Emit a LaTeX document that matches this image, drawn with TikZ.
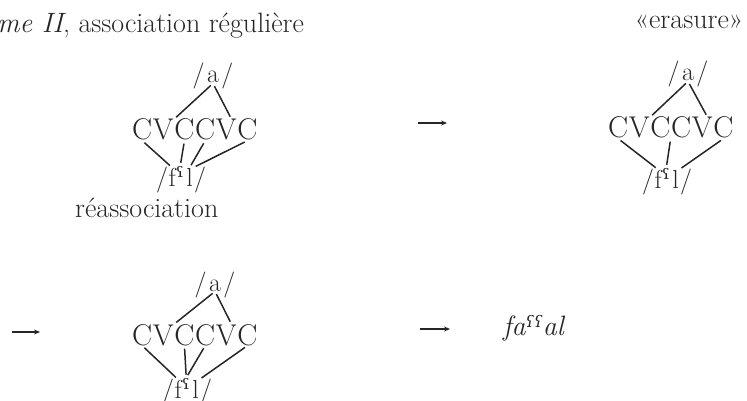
\documentclass[tikz,border=0pt]{standalone}
\usepackage{fontspec}
\newfontfamily\ipafont{DejaVu Serif}
\usetikzlibrary{arrows.meta,calc}
\tikzset{
  txt/.style={font=\fontsize{28}{33}\selectfont, inner sep=0pt, text=black!85},
  slot/.style={font=\fontsize{30}{34}\selectfont, inner sep=0pt, anchor=base west, text=black!85},
  mel/.style={font=\fontsize{26}{30}\selectfont, inner sep=0pt, anchor=base west, text=black!85},
  assoc/.style={line width=1.5pt, draw=black!85, shorten <=3pt, shorten >=3pt},
  seqarrow/.style={-{Stealth[length=6pt,width=5pt]}, line width=1.1pt, draw=black!85}
}
% #1 prefix, #2 left x of CVCCVC, #3 baseline, #4 a x-offset, #5 a dy, #6 melody x-offset, #7 melody dy
\newcommand\drawtiers[7]{%
  \node[slot] (#1c1) at (#2,#3) {C};
  \node[slot] (#1v1) at ([xshift=0.3pt]#1c1.base east) {V};
  \node[slot] (#1c2) at ([xshift=0.3pt]#1v1.base east) {C};
  \node[slot] (#1c3) at ([xshift=0.3pt]#1c2.base east) {C};
  \node[slot] (#1v2) at ([xshift=0.3pt]#1c3.base east) {V};
  \node[slot] (#1c4) at ([xshift=0.3pt]#1v2.base east) {C};
  \node[mel, anchor=base] (#1a) at (#2+#4,#3+#5) {a};
  \node[mel, anchor=base east] (#1al) at ([xshift=-2pt]#1a.base west) {/};
  \node[mel] (#1ar) at ([xshift=2pt]#1a.base east) {/};
  \node[mel] (#1sl) at (#2+#6,#3+#7) {/};
  \node[mel] (#1f) at (#1sl.base east) {f};
  \node[mel] (#1h) at ([xshift=0.5pt]#1f.base east) {\ipafont ˤ};
  \node[mel] (#1l) at ([xshift=2pt]#1h.base east) {l};
  \node[mel] (#1sr) at ([xshift=1pt]#1l.base east) {/};
  \draw[assoc] (#1a.south) -- (#1v1.north east);
  \draw[assoc] (#1a.south) -- ($(#1v2.north)!0.5!(#1v2.north east)$);
}
\begin{document}
\begin{tikzpicture}[x=1pt,y=-1pt]
\useasboundingbox (0,0) rectangle (747,401);

% texts
\node[txt, anchor=base west] (title) at (-3,33) {\textit{me II}, association régulière};
\node[txt, anchor=base] (erasure) at (689,29) {«erasure»};
\node[txt, anchor=base west] (reass) at (75,217) {réassociation};
\node[txt, anchor=base west] (result) at (503,335) {\textit{fa{\ipafont\fontsize{16}{18}\selectfont\raisebox{8pt}{ʕʕ}}al}};

% diagram 1: association reguliere
\drawtiers{A}{132}{140}{81}{-57}{24}{46}
\draw[assoc] (Ac1.south) -- (Af.north);
\draw[assoc] (Ac2.south) -- (Ah.north);
\draw[assoc] (Ac3.south) -- (Al.north);
\draw[assoc] (Ac4.south) -- (Al.north east);

% diagram 2: erasure
\drawtiers{B}{608}{138}{80}{-57}{34}{50}
\draw[assoc] (Bc1.south) -- (Bf.north);
\draw[assoc] (Bc2.south east) -- (Bh.north);
\draw[assoc] (Bc4.south) -- (Bl.north east);

% diagram 3: reassociation
\drawtiers{C}{132}{345}{83}{-54}{30}{53}
\draw[assoc] (Cc1.south) -- (Cf.north);
\draw[assoc] (Cc2.south) -- (Ch.north);
\draw[assoc] (Cc3.south) -- (Ch.north);
\draw[assoc] (Cc4.south) -- (Cl.north east);

% sequence arrows
\coordinate (t1) at (418,123); \coordinate (t2) at (447,123);
\coordinate (l1) at (12,332);  \coordinate (l2) at (40,332);
\coordinate (m1) at (420,329); \coordinate (m2) at (450,329);
\draw[seqarrow] (t1) -- (t2);
\draw[seqarrow] (l1) -- (l2);
\draw[seqarrow] (m1) -- (m2);
\end{tikzpicture}
\end{document}
